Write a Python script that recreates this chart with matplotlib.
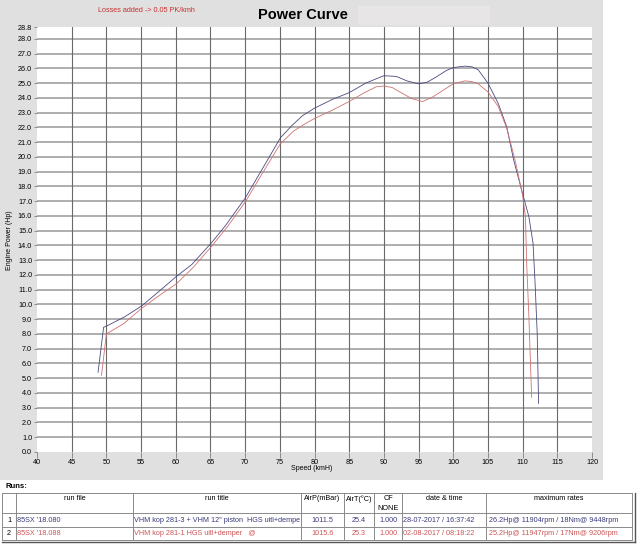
import numpy as np
import matplotlib
matplotlib.use("Agg")
import matplotlib.pyplot as plt
from matplotlib.patches import Rectangle

plt.rcParams["font.family"] = ["Liberation Sans", "DejaVu Sans"]

# --- data ---
run1_speed = [48.8, 49.6, 50.1, 52.6, 55.1, 57.5, 60.1, 62.3, 65.1, 67.1,
              70.0, 72.5, 75.1, 76.8, 78.3, 80.0, 82.6, 85.0, 87.4, 90.0,
              91.8, 93.3, 95.0, 96.2, 97.5, 99.0, 100.0, 101.7, 102.7, 103.6,
              105.0, 106.5, 107.7, 108.7, 110.0, 110.9, 111.5, 111.8, 112.1,
              112.3]
run1_power = [5.4, 8.45, 8.55, 9.15, 9.9, 10.85, 11.9, 12.7, 14.15, 15.3,
              17.2, 19.2, 21.3, 22.15, 22.8, 23.3, 23.9, 24.35, 25.0, 25.5,
              25.45, 25.15, 24.95, 25.05, 25.4, 25.85, 26.05, 26.15, 26.1,
              25.9, 25.0, 23.6, 22.05, 19.8, 17.5, 15.95, 14.15, 11.4, 8.05,
              3.3]

run2_speed = [49.3, 50.0, 52.5, 55.0, 57.3, 60.1, 62.5, 65.1, 67.5, 70.1,
              72.5, 75.1, 77.0, 78.5, 80.0, 82.5, 85.0, 87.0, 88.9, 90.0,
              91.2, 92.3, 94.0, 95.6, 97.0, 98.5, 100.0, 101.7, 102.7, 103.6,
              105.0, 106.5, 107.7, 108.9, 110.0, 110.4, 110.6, 110.9, 111.3]
run2_power = [5.2, 8.0, 8.7, 9.7, 10.5, 11.4, 12.5, 13.9, 15.3, 17.0,
              18.9, 20.9, 21.75, 22.2, 22.6, 23.15, 23.75, 24.3, 24.75, 24.8,
              24.7, 24.4, 23.95, 23.75, 24.05, 24.5, 24.95, 25.15, 25.1, 24.95,
              24.4, 23.4, 21.95, 19.8, 17.4, 15.95, 12.6, 9.2, 3.7]

x_ticks = list(range(40, 121, 5))
y_ticks = list(range(0, 29)) + [28.8]

table_header = ["", "run file", "run title", "AirP(mBar)", "AirT(\u00b0C)",
                "CF\nNONE", "date & time", "maximum rates"]
run_file = ["85SX '18.080", "85SX '18.088"]
run_title = ['VHM kop 281-3 + VHM 12" piston  HGS uitl+dempe',
             "VHM kop 281-1 HGS uitl+demper   @"]
air_p = [1011.5, 1015.6]
air_t = [25.4, 25.3]
cf = [1.000, 1.000]
date_time = ["28-07-2017 / 16:37:42", "02-08-2017 / 08:18:22"]
max_rates = ["26.2Hp@ 11904rpm / 18Nm@ 9448rpm",
             "25.2Hp@ 11947rpm / 17Nm@ 9206rpm"]

blue = "#3a3a7c"
red = "#cc5555"

W, H = 639, 551
fig = plt.figure(figsize=(W / 100, H / 100), dpi=100)

# background layer in pixel coords
bg = fig.add_axes([0, 0, 1, 1], zorder=0)
bg.set_xlim(0, W)
bg.set_ylim(H, 0)
bg.axis("off")
bg.add_patch(Rectangle((0, 0), 603, 480, color="#e0e0e0", lw=0))
bg.add_patch(Rectangle((358, 6), 132, 19, color="#e8e5e7", lw=0))
bg.text(303, 15, "Power Curve", ha="center", va="center",
        fontsize=10.5, fontweight="bold")
bg.text(98, 11, "Losses added -> 0.05 PK/kmh", ha="left", va="center",
        fontsize=5.2, color="#c83030")
bg.text(312, 469, "Speed (kmH)", ha="center", va="center", fontsize=5)
bg.text(10, 240, "Engine Power (Hp)", ha="center", va="center",
        fontsize=5, rotation=90)

# --- chart ---
ax = fig.add_axes([37 / W, 1 - 452 / H, (592 - 37) / W, (452 - 27) / H],
                  zorder=1)
ax.set_facecolor("white")
for s in ax.spines.values():
    s.set_visible(False)
for v in x_ticks[1:-1]:
    ax.axvline(v, color="#6a6a6a", lw=0.8, zorder=1)
for v in y_ticks[1:-1]:
    ax.axhline(v, color="#a8a8a8", lw=1.3, zorder=0.5)

ax.plot(run1_speed, run1_power, color="#4a4a80", lw=0.6, zorder=3)
ax.plot(run2_speed, run2_power, color="#d07070", lw=0.6, zorder=3)

ax.set_xlim(40, 120)
ax.set_ylim(0, 28.8)
ax.set_xticks(x_ticks)
ax.set_yticks(y_ticks)
ax.set_yticklabels([f"{v:.1f}" for v in y_ticks])
ax.tick_params(axis="both", length=2.5, width=0.6, color="#808080",
               labelsize=5.2, pad=1)
ax.tick_params(axis="x", length=4)

# --- runs table ---
bg.text(5, 487, "Runs:", ha="left", va="center", fontsize=5.5,
        fontweight="bold")
col_edges = [2, 16, 133, 301, 344, 374, 402, 486, 632]
row_edges = [493, 513, 527, 540]
line_c = "#8a8a8a"
for x in col_edges:
    bg.plot([x, x], [row_edges[0], row_edges[-1]], color=line_c, lw=0.7)
for y in row_edges:
    bg.plot([col_edges[0], col_edges[-1]], [y, y], color=line_c, lw=0.7)
bg.plot([col_edges[0], col_edges[-1] + 3], [542, 542], color="#555555", lw=1.0)
bg.plot([635, 635], [row_edges[0], 542], color="#555555", lw=1.0)

fs = 5.2
for i, h in enumerate(table_header):
    cx = (col_edges[i] + col_edges[i + 1]) / 2
    if "\n" in h:
        top, bottom = h.split("\n")
        bg.text(cx, 499, top, ha="center", va="center", fontsize=fs)
        bg.text(cx, 508, bottom, ha="center", va="center", fontsize=fs)
    else:
        bg.text(cx, 499, h, ha="center", va="center", fontsize=fs)

for r, c in enumerate([blue, red]):
    cy = (row_edges[r + 1] + row_edges[r + 2]) / 2
    bg.text(9, cy, str(r + 1), ha="center", va="center", fontsize=fs)
    bg.text(col_edges[1] + 1, cy, run_file[r], ha="left", va="center",
            fontsize=fs, color=c)
    bg.text(col_edges[2] + 1, cy, run_title[r], ha="left", va="center",
            fontsize=fs, color=c)
    bg.text((col_edges[3] + col_edges[4]) / 2, cy, f"{air_p[r]:.1f}",
            ha="center", va="center", fontsize=fs, color=c)
    bg.text((col_edges[4] + col_edges[5]) / 2, cy, f"{air_t[r]:.1f}",
            ha="center", va="center", fontsize=fs, color=c)
    bg.text((col_edges[5] + col_edges[6]) / 2, cy, f"{cf[r]:.3f}",
            ha="center", va="center", fontsize=fs, color=c)
    bg.text(col_edges[6] + 1, cy, date_time[r], ha="left", va="center",
            fontsize=fs, color=c)
    bg.text(col_edges[7] + 3, cy, max_rates[r], ha="left", va="center",
            fontsize=fs, color=c)

fig.savefig("out.png", dpi=100)
